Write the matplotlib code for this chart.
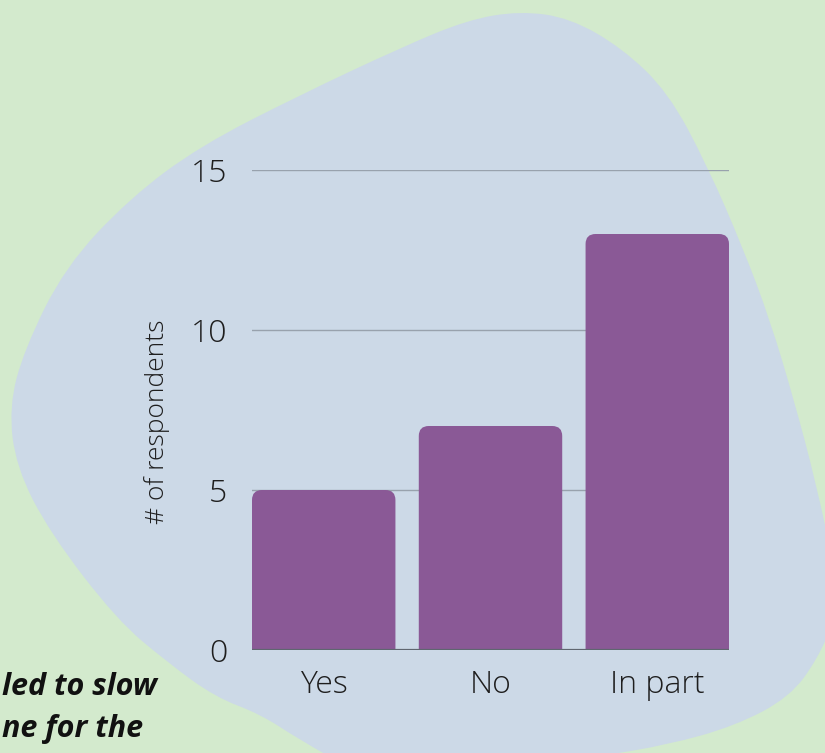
import matplotlib
matplotlib.use("Agg")
import matplotlib.pyplot as plt
from matplotlib.patches import FancyBboxPatch, PathPatch
from matplotlib.path import Path
import numpy as np

# data
answers = ["Yes", "No", "In part"]
respondents = [5, 7, 13]
yticks = [0, 5, 10, 15]

bg_green = "#d3eacd"
blob_blue = "#ccd9e7"
bar_purple = "#8a5996"
ink = "#1e1e1e"

W, H = 825, 753
fig = plt.figure(figsize=(W / 100, H / 100), dpi=100, facecolor=bg_green)

# background blob, pixel coords (y down)
bg = fig.add_axes([0, 0, 1, 1], zorder=0)
bg.set_xlim(0, W)
bg.set_ylim(H, 0)
bg.axis("off")
pts = [(520, 11), (570, 18), (622, 48), (668, 92), (707, 165), (743, 248),
       (770, 320), (794, 400), (816, 483), (834, 567), (834, 620), (818, 658),
       (790, 697), (735, 726), (667, 745), (600, 756), (540, 768), (450, 778),
       (350, 768), (300, 740), (260, 714), (215, 697), (167, 662), (117, 620),
       (50, 533), (16, 467), (9, 407), (24, 350), (65, 267), (130, 198),
       (200, 146), (300, 95), (400, 48), (467, 20)]
n = len(pts)
verts, codes = [], []
mids = [((pts[i][0] + pts[(i + 1) % n][0]) / 2, (pts[i][1] + pts[(i + 1) % n][1]) / 2) for i in range(n)]
verts.append(mids[-1]); codes.append(Path.MOVETO)
for i in range(n):
    verts += [pts[i], mids[i]]
    codes += [Path.CURVE3, Path.CURVE3]
bg.add_patch(PathPatch(Path(verts, codes), facecolor=blob_blue, edgecolor="none"))

# chart
ax = fig.add_axes([252 / W, 1 - 650 / H, 477 / W, 480 / H], zorder=1)
ax.patch.set_alpha(0)
x = np.arange(len(answers))
bars = ax.bar(x, respondents, width=0.86, color=bar_purple, zorder=3)
ax.set_xlim(-0.43, 2.43)
ax.set_ylim(0, 15)

# swap plain rectangles for rounded-top ones
px_x = 477 / 2.86
px_y = 480 / 15
r = 10 / px_x
for b in bars:
    bx, bw, bh = b.get_x(), b.get_width(), b.get_height()
    b.remove()
    ax.add_patch(FancyBboxPatch((bx, -1), bw, bh + 1,
                                boxstyle=f"round,pad=0,rounding_size={r}",
                                mutation_aspect=px_x / px_y,
                                facecolor=bar_purple, edgecolor="none", zorder=3))

for v in yticks[1:]:
    ax.axhline(v, color="#98a2ad", lw=1.0, zorder=1)
ax.axhline(0, color="#5f6670", lw=1.6, zorder=4)

for s in ax.spines.values():
    s.set_visible(False)
ax.set_yticks(yticks)
ax.set_xticks(x)
ax.set_xticklabels(answers)
ax.tick_params(length=0, colors=ink, labelsize=23)
ax.tick_params(axis="y", pad=18)
ax.tick_params(axis="x", pad=14)
for lab in ax.get_xticklabels() + ax.get_yticklabels():
    lab.set_family("Open Sans")
    lab.set_fontweight("light")
ax.set_ylabel("# of respondents", fontsize=19, family="Open Sans",
              fontweight="light", color=ink)
ax.yaxis.set_label_coords(-0.172, 0.475)

# cut-off caption at lower left
fig.text(157 / W, 1 - 695 / H, "led to slow", ha="right", va="baseline",
         fontsize=22, family="Open Sans", fontweight="bold", style="italic", color="#111111")
fig.text(143 / W, 1 - 737 / H, "ne for the", ha="right", va="baseline",
         fontsize=22, family="Open Sans", fontweight="bold", style="italic", color="#111111")

fig.savefig("out.png", dpi=100, facecolor=bg_green)
